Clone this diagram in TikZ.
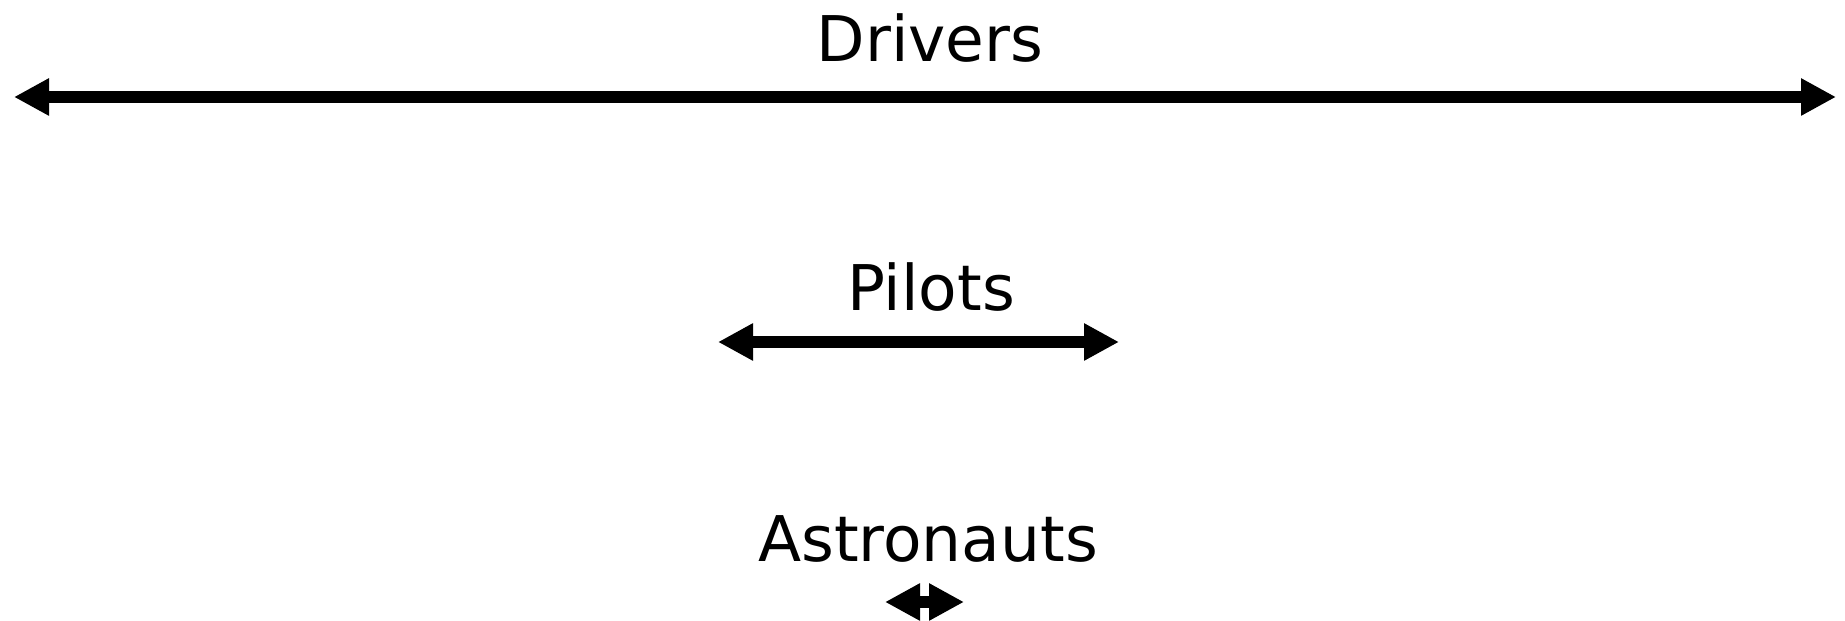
\documentclass[tikz,border=0pt]{standalone}
\usepackage{fontspec}
\setmainfont{DejaVu Sans}
\usepackage{tikz}
\usetikzlibrary{arrows.meta}

\begin{document}
\begin{tikzpicture}[
    x=1pt, y=1pt,
    lbl/.style={anchor=base, inner sep=0pt, font=\fontsize{63}{75}\selectfont},
    span/.style={{Triangle[length=35pt, width=35pt]}-{Triangle[length=35pt, width=35pt]}, line width=11.5pt}
  ]
    \useasboundingbox (0,0) rectangle (1845,621);

    \node[lbl] (drivers) at (930,559) {Drivers};
    \node[lbl] (pilots) at (931,310) {Pilots};
    \node[lbl] (astronauts) at (928,59) {Astronauts};

    \coordinate (drvL) at (14,524);
    \coordinate (drvR) at (1836,524);
    \coordinate (pilL) at (718,279);
    \coordinate (pilR) at (1119,279);
    \coordinate (astL) at (885,19);
    \coordinate (astR) at (964,19);

    \draw[span] (drvL)--(drvR);
    \draw[span] (pilL)--(pilR);
    \draw[span] (astL)--(astR);
  \end{tikzpicture}
\end{document}
